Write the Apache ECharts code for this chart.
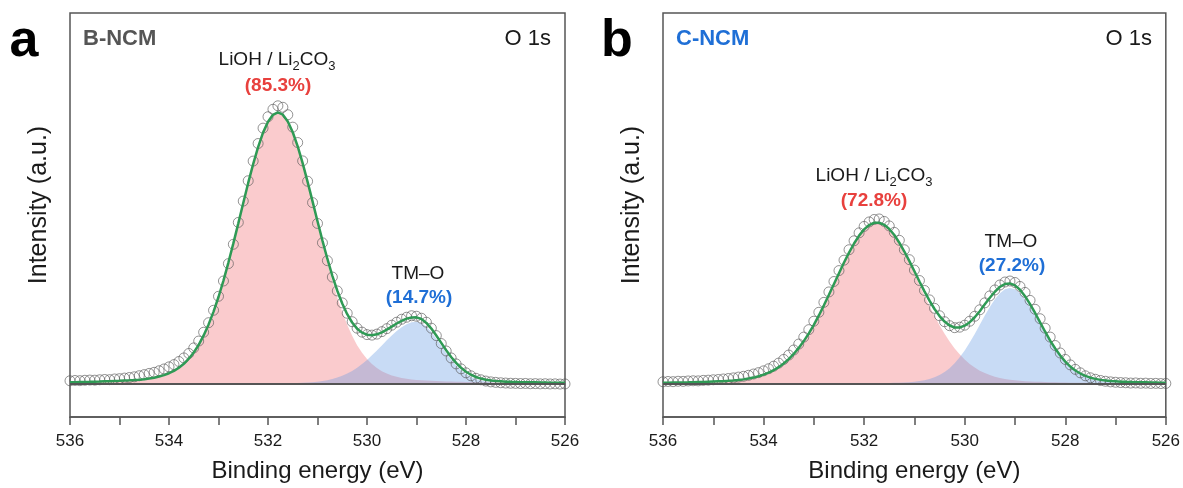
<!DOCTYPE html>
<html><head><meta charset="utf-8">
<script src="https://cdn.jsdelivr.net/npm/echarts@6/dist/echarts.min.js"></script>
<style>html,body{margin:0;padding:0;background:#fff}#c{width:1183px;height:488px}</style>
</head><body><div id="c"></div>
<script>
// Binding energy grid (eV)
const energy = [
536.0,535.9,535.8,535.7,535.6,535.5,535.4,535.3,535.2,535.1,
535.0,534.9,534.8,534.7,534.6,534.5,534.4,534.3,534.2,534.1,
534.0,533.9,533.8,533.7,533.6,533.5,533.4,533.3,533.2,533.1,
533.0,532.9,532.8,532.7,532.6,532.5,532.4,532.3,532.2,532.1,
532.0,531.9,531.8,531.7,531.6,531.5,531.4,531.3,531.2,531.1,
531.0,530.9,530.8,530.7,530.6,530.5,530.4,530.3,530.2,530.1,
530.0,529.9,529.8,529.7,529.6,529.5,529.4,529.3,529.2,529.1,
529.0,528.9,528.8,528.7,528.6,528.5,528.4,528.3,528.2,528.1,
528.0,527.9,527.8,527.7,527.6,527.5,527.4,527.3,527.2,527.1,
527.0,526.9,526.8,526.7,526.6,526.5,526.4,526.3,526.2,526.1,
526.0];
const tickLabels = ['536','534','532','530','528','526'];

// Panel a: B-NCM
const aMeasured = [
3.5,3.8,3.6,4.0,4.2,4.1,4.5,4.8,4.6,5.3,
5.6,6.2,6.8,7.5,8.6,9.7,10.9,12.0,13.6,15.4,
17.5,19.8,22.9,26.5,31.0,36.6,43.5,52.4,62.0,74.5,
88.6,104.0,121.5,141.0,163.0,184.5,205.0,224.8,242.5,258.0,
269.5,277.0,280.5,279.0,271.5,259.0,243.5,225.0,204.5,183.0,
162.0,142.5,124.5,108.0,94.0,82.0,71.5,63.0,56.5,52.5,
50.0,49.5,50.5,53.0,56.0,59.5,62.5,65.5,67.5,69.0,
68.5,66.5,62.5,56.5,49.0,41.0,33.5,26.5,20.5,15.5,
11.5,8.5,6.0,4.5,3.2,2.4,1.9,1.5,1.2,1.0,
0.9,0.7,0.8,0.5,0.6,0.4,0.5,0.3,0.4,0.2,
0.3];
const aEnvelope = [
2.0,2.1,2.2,2.3,2.4,2.6,2.7,2.9,3.0,3.2,
3.4,3.7,3.9,4.2,4.6,5.1,5.8,6.6,7.8,9.2,
11.1,13.5,16.6,20.6,25.7,32.0,39.7,49.2,60.3,73.2,
87.9,104.4,122.6,141.9,162.1,182.6,202.8,221.8,238.9,253.5,
264.5,271.4,273.8,271.6,264.8,253.9,239.6,222.7,203.9,184.2,
164.2,144.7,126.2,109.2,94.2,81.3,70.6,62.2,56.0,52.0,
49.9,49.4,50.3,52.3,55.0,58.1,61.2,63.9,66.1,67.3,
67.4,65.7,61.8,56.1,49.1,41.7,34.3,27.5,21.5,16.6,
12.6,9.6,7.3,5.7,4.6,3.8,3.3,3.0,2.6,2.4,
2.3,2.1,2.1,1.9,1.9,1.7,1.7,1.5,1.5,1.5,
1.4];
const aLiOH = [
1.9,2.0,2.1,2.2,2.3,2.4,2.5,2.7,2.8,3.0,
3.2,3.5,3.7,4.0,4.4,4.9,5.6,6.4,7.5,8.9,
10.8,13.2,16.3,20.3,25.4,31.7,39.4,48.8,59.9,72.8,
87.5,104.0,122.1,141.4,161.6,182.1,202.2,221.2,238.3,252.8,
263.8,270.7,273.0,270.7,263.8,252.8,238.3,221.2,202.2,182.1,
161.6,141.4,122.1,104.0,87.5,72.8,59.9,48.8,39.4,31.7,
25.4,20.3,16.3,13.2,10.8,8.9,7.5,6.4,5.6,4.9,
4.4,4.0,3.7,3.5,3.2,3.0,2.8,2.7,2.5,2.4,
2.3,2.2,2.1,2.0,1.9,1.8,1.7,1.7,1.6,1.5,
1.5,1.4,1.4,1.3,1.3,1.2,1.2,1.1,1.1,1.1,
1.0];
const aTMO = [
0.1,0.1,0.1,0.1,0.1,0.2,0.2,0.2,0.2,0.2,
0.2,0.2,0.2,0.2,0.2,0.2,0.2,0.2,0.3,0.3,
0.3,0.3,0.3,0.3,0.3,0.3,0.3,0.4,0.4,0.4,
0.4,0.4,0.5,0.5,0.5,0.5,0.6,0.6,0.6,0.7,
0.7,0.7,0.8,0.9,1.0,1.1,1.3,1.5,1.7,2.1,
2.6,3.3,4.1,5.2,6.7,8.5,10.7,13.4,16.6,20.3,
24.5,29.1,34.0,39.1,44.2,49.2,53.7,57.5,60.5,62.4,
63.0,61.7,58.1,52.6,45.9,38.7,31.5,24.8,19.0,14.2,
10.3,7.4,5.2,3.7,2.7,2.0,1.6,1.3,1.0,0.9,
0.8,0.7,0.7,0.6,0.6,0.5,0.5,0.4,0.4,0.4,
0.4];

// Panel b: C-NCM
const bMeasured = [
2.5,2.8,2.6,3.0,2.9,3.3,3.5,3.4,3.9,4.1,
4.5,4.8,5.3,5.8,6.4,7.2,8.0,9.0,10.3,11.7,
13.5,15.6,18.2,21.3,25.0,29.4,34.5,40.5,47.5,55.0,
63.5,72.5,82.5,93.0,103.5,114.5,125.0,135.5,144.5,152.5,
159.0,163.5,166.0,166.5,164.0,159.5,153.0,145.0,135.5,125.5,
115.0,104.5,94.5,85.0,76.5,69.0,63.0,59.0,57.0,57.5,
59.5,63.5,68.5,75.0,82.0,89.0,95.0,100.0,103.0,104.0,
102.5,98.5,92.5,84.5,75.5,66.0,56.5,47.5,39.0,31.5,
25.0,19.5,15.0,11.5,8.5,6.5,5.0,3.8,3.0,2.4,
2.0,1.7,1.5,1.2,1.3,1.0,1.1,0.8,0.9,0.7,
0.8];
const bEnvelope = [
1.5,1.6,1.7,1.7,1.8,1.9,2.1,2.2,2.3,2.5,
2.7,2.9,3.1,3.4,3.8,4.3,4.9,5.7,6.7,8.0,
9.7,11.7,14.1,17.2,20.9,25.3,30.5,36.6,43.5,51.3,
59.9,69.3,79.5,90.1,100.9,111.8,122.6,132.6,141.8,149.7,
156.0,160.4,162.7,162.7,160.6,156.4,150.3,142.6,133.7,124.0,
113.8,103.5,93.6,84.2,75.8,68.7,63.1,59.2,57.2,57.2,
59.0,62.5,67.5,73.6,80.5,87.2,93.2,98.1,101.0,101.6,
99.6,95.2,88.7,80.7,71.8,62.3,52.9,44.0,36.0,28.9,
22.8,17.8,13.8,10.8,8.4,6.6,5.4,4.4,3.8,3.2,
2.9,2.6,2.4,2.3,2.0,1.9,1.9,1.7,1.7,1.6,
1.6];
const bLiOH = [
1.3,1.4,1.5,1.5,1.6,1.7,1.8,1.9,2.0,2.2,
2.4,2.6,2.8,3.1,3.5,4.0,4.6,5.4,6.4,7.6,
9.3,11.3,13.7,16.8,20.5,24.9,30.1,36.1,43.0,50.8,
59.4,68.8,78.9,89.5,100.3,111.2,121.9,131.9,141.0,148.9,
155.1,159.5,161.7,161.7,159.5,155.1,148.9,141.0,131.9,121.9,
111.2,100.3,89.5,78.9,68.8,59.4,50.8,43.0,36.1,30.1,
24.9,20.5,16.8,13.7,11.3,9.3,7.6,6.4,5.4,4.6,
4.0,3.5,3.1,2.8,2.6,2.4,2.2,2.0,1.9,1.8,
1.7,1.6,1.5,1.5,1.4,1.3,1.3,1.2,1.2,1.1,
1.1,1.0,1.0,1.0,0.9,0.9,0.9,0.8,0.8,0.8,
0.8];
const bTMO = [
0.2,0.2,0.2,0.2,0.2,0.2,0.3,0.3,0.3,0.3,
0.3,0.3,0.3,0.3,0.3,0.3,0.3,0.3,0.3,0.4,
0.4,0.4,0.4,0.4,0.4,0.4,0.4,0.5,0.5,0.5,
0.5,0.5,0.6,0.6,0.6,0.6,0.7,0.7,0.8,0.8,
0.9,0.9,1.0,1.0,1.1,1.3,1.4,1.6,1.8,2.1,
2.6,3.2,4.1,5.3,7.0,9.3,12.3,16.2,21.1,27.1,
34.1,42.0,50.7,59.9,69.2,77.9,85.6,91.7,95.6,97.0,
95.6,91.7,85.6,77.9,69.2,59.9,50.7,42.0,34.1,27.1,
21.1,16.2,12.3,9.3,7.0,5.3,4.1,3.2,2.6,2.1,
1.8,1.6,1.4,1.3,1.1,1.0,1.0,0.9,0.9,0.8,
0.8];

const panelLetters = ['a', 'b'];
const sampleNames = ['B-NCM', 'C-NCM'];
const sampleColors = ['#555555', '#1f6fd6'];
const liohPercent = ['(85.3%)', '(72.8%)'];
const tmoPercent = ['(14.7%)', '(27.2%)'];

const FONT = '"Liberation Sans", Arial, Helvetica, sans-serif';
const RED = '#e8403d', BLUE = '#1f6fd6';

const panels = [
  {left: 70, width: 495, meas: aMeasured, env: aEnvelope, li: aLiOH, tm: aTMO},
  {left: 663, width: 503, meas: bMeasured, env: bEnvelope, li: bLiOH, tm: bTMO}
];
const pairs = arr => energy.map((e, i) => [e, arr[i]]);

const chart = echarts.init(document.getElementById('c'), null, {renderer: 'canvas'});

const series = [];
panels.forEach((p, i) => {
  series.push({
    type: 'line', xAxisIndex: i, yAxisIndex: i, data: pairs(p.li),
    showSymbol: false, silent: true, lineStyle: {width: 0},
    areaStyle: {color: 'rgba(240,112,118,0.52)'}, z: 1
  });
  series.push({
    type: 'line', xAxisIndex: i, yAxisIndex: i, data: pairs(p.tm),
    showSymbol: false, silent: true, lineStyle: {width: 0},
    areaStyle: {color: 'rgba(100,152,228,0.5)'}, z: 2,
    markLine: {symbol: 'none', silent: true, label: {show: false},
      lineStyle: {color: '#555', width: 2, type: 'solid'}, data: [{yAxis: 0}]}
  });
  series.push({
    type: 'scatter', xAxisIndex: i, yAxisIndex: i, data: pairs(p.meas),
    symbol: 'circle', symbolSize: 10, silent: true,
    itemStyle: {color: 'rgba(255,255,255,0)', borderColor: '#555', borderWidth: 0.8}, z: 3
  });
  series.push({
    type: 'line', xAxisIndex: i, yAxisIndex: i, data: pairs(p.env),
    showSymbol: false, silent: true, lineStyle: {color: '#2f9a55', width: 2.5}, z: 4
  });
});

const graphic = [];
const liohPos = [[277, 60, 278, 86], [874, 176, 874, 201]];
const tmoPos = [[418, 274, 419, 298], [1011, 242, 1012, 266]];
panels.forEach((p, i) => {
  graphic.push({type: 'text', x: i === 0 ? 24 : 617, y: 42,
    style: {text: panelLetters[i], font: 'bold 52px ' + FONT, fill: '#000', align: 'center', verticalAlign: 'middle'}});
  graphic.push({type: 'text', x: p.left + 13, y: 39,
    style: {text: sampleNames[i], font: 'bold 22px ' + FONT, fill: sampleColors[i], align: 'left', verticalAlign: 'middle'}});
  graphic.push({type: 'text', x: p.left + p.width - 14, y: 39,
    style: {text: 'O 1s', font: '22px ' + FONT, fill: '#1a1a1a', align: 'right', verticalAlign: 'middle'}});
  const L = liohPos[i], T = tmoPos[i];
  graphic.push({type: 'text', x: L[0], y: L[1],
    style: {text: '{n|LiOH / Li}{s|2}{n|CO}{s|3}', align: 'center', verticalAlign: 'middle',
      rich: {n: {fontSize: 19, fontFamily: FONT, fill: '#1a1a1a', lineHeight: 25},
             s: {fontSize: 13, fontFamily: FONT, fill: '#1a1a1a', verticalAlign: 'bottom', lineHeight: 15}}}});
  graphic.push({type: 'text', x: L[2], y: L[3],
    style: {text: liohPercent[i], font: 'bold 19px ' + FONT, fill: RED, align: 'center', verticalAlign: 'middle'}});
  graphic.push({type: 'text', x: T[0], y: T[1],
    style: {text: 'TM\u2013O', font: '19px ' + FONT, fill: '#1a1a1a', align: 'center', verticalAlign: 'middle'}});
  graphic.push({type: 'text', x: T[2], y: T[3],
    style: {text: tmoPercent[i], font: 'bold 19px ' + FONT, fill: BLUE, align: 'center', verticalAlign: 'middle'}});
  graphic.push({type: 'text', x: p.left - 31, y: 205, rotation: Math.PI / 2,
    style: {text: 'Intensity (a.u.)', font: '25px ' + FONT, fill: '#1a1a1a', align: 'center', verticalAlign: 'middle'}});
});

chart.setOption({
  animation: false,
  backgroundColor: '#fff',
  grid: panels.map(p => ({left: p.left, top: 13, width: p.width, height: 407, show: true,
    borderColor: '#555', borderWidth: 1.5, backgroundColor: 'rgba(0,0,0,0)', containLabel: false})),
  xAxis: panels.map((p, i) => ({
    gridIndex: i, type: 'value', inverse: true, min: 526, max: 536, interval: 1,
    name: 'Binding energy (eV)', nameLocation: 'middle', nameGap: 42,
    nameTextStyle: {fontSize: 24, color: '#1a1a1a', fontFamily: FONT},
    axisLine: {show: true, onZero: false, lineStyle: {color: '#555', width: 1.5}},
    axisTick: {show: true, inside: false, length: 8, lineStyle: {color: '#555', width: 1.5}},
    axisLabel: {show: true, margin: 16, fontSize: 17, color: '#1a1a1a', fontFamily: FONT,
      showMinLabel: true, showMaxLabel: true,
      formatter: v => tickLabels.indexOf(String(Math.round(v))) >= 0 && Math.abs(v - Math.round(v)) < 1e-6 ? String(Math.round(v)) : ''},
    splitLine: {show: false}
  })),
  yAxis: panels.map((p, i) => ({
    gridIndex: i, type: 'value', min: -33, max: 374,
    axisLine: {show: false}, axisTick: {show: false}, axisLabel: {show: false}, splitLine: {show: false}
  })),
  series: series,
  graphic: graphic
});
</script></body></html>
